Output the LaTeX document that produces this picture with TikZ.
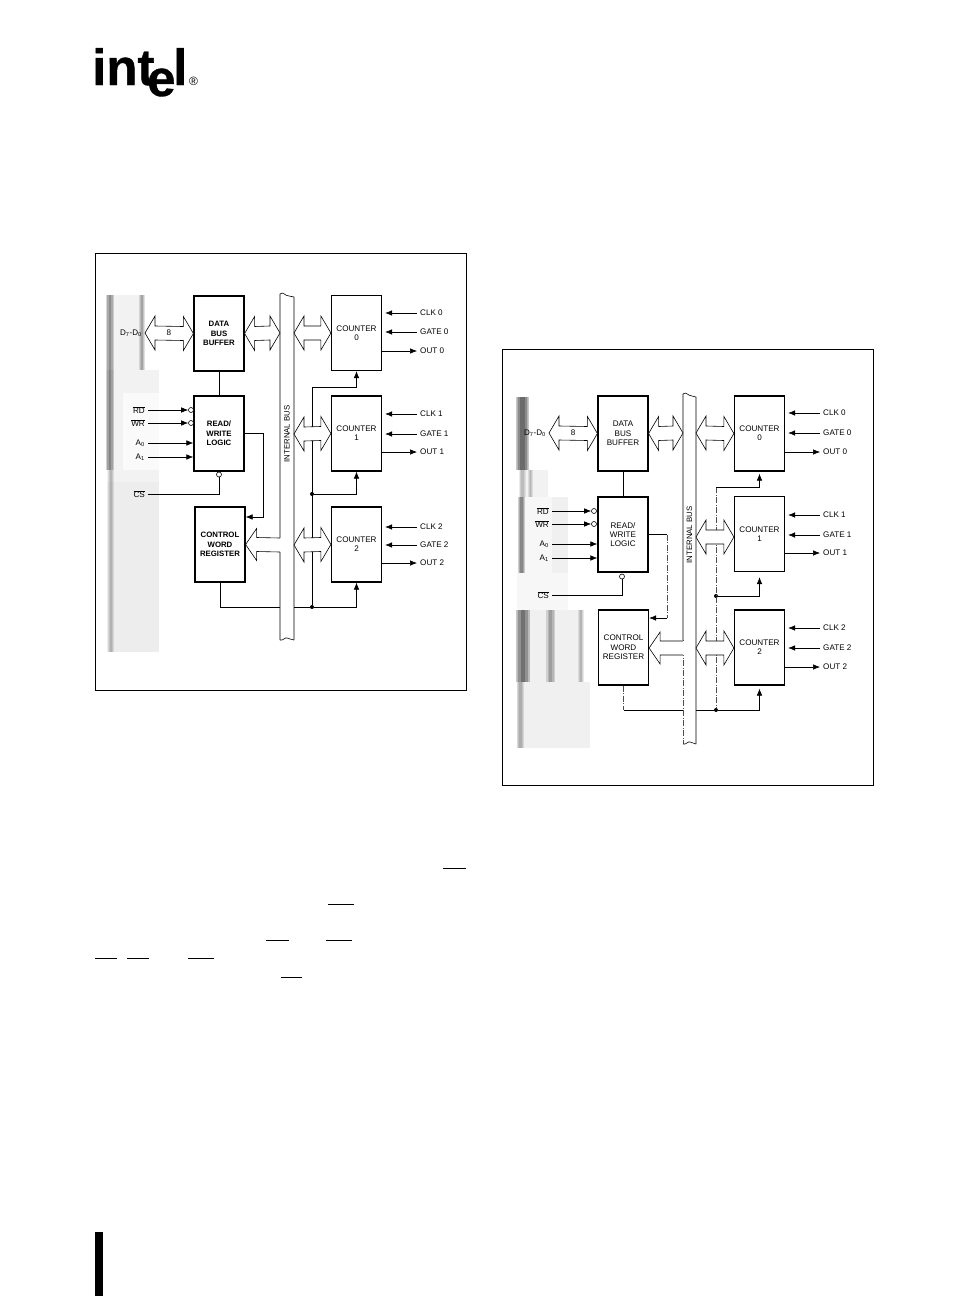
\documentclass[tikz,border=0pt]{standalone}
\usepackage{fontspec}
\setmainfont{Liberation Sans}
\newfontfamily\logofont[FakeBold=0.7]{Liberation Sans Bold}
\usetikzlibrary{arrows.meta, calc}

\tikzset{
    blockbox/.style={draw, line width=1.2pt, fill=white, minimum width=50pt, minimum height=75pt, inner sep=0pt, align=center, font=\fontsize{8.1}{9.3}\selectfont},
    boldbox/.style={blockbox, font=\fontsize{7.8}{9.3}\bfseries\selectfont},
    siglabel/.style={inner sep=3pt, font=\fontsize{8.1}{9}\selectfont},
    sigline/.style={line width=0.6pt},
    sigarrow/.style={sigline, -{Latex[length=7pt,width=5.5pt]}},
    scanline/.style={line width=0.5pt, black!70, dash pattern=on 6pt off 1.5pt on 1pt off 1.5pt},
    busline/.style={line width=0.6pt},
    bubble/.style={draw, circle, line width=0.6pt, fill=white, minimum size=5pt, inner sep=0pt},
    jdot/.style={fill, circle, minimum size=4pt, inner sep=0pt},
    frameline/.style={line width=0.9pt},
    logotext/.style={inner sep=0pt, anchor=base west, font=\fontsize{51}{51}\logofont},
}

% two-headed bus arrow between two tips
\newcommand{\busarrow}[2]{
    \draw[busline, fill=white] (#1) -- ($(#1)+(10,17)$) -- ($(#1)+(10,7)$) -- ($(#2)+(-10,7)$) -- ($(#2)+(-10,17)$) -- (#2)
        -- ($(#2)+(-10,-17)$) -- ($(#2)+(-10,-7)$) -- ($(#1)+(10,-7)$) -- ($(#1)+(10,-17)$) -- cycle;
}
% one-headed arrow that opens into the bus
\newcommand{\busstub}[2]{
    \fill[white] (#1) -- ($(#1)+(11,-16)$) -- ($(#1)+(11,-7)$) -- ($(#2)+(1,-7)$) -- ($(#2)+(1,7)$) -- ($(#1)+(11,7)$) -- ($(#1)+(11,16)$) -- cycle;
    \draw[busline] ($(#2)+(0,-7)$) -- ($(#1)+(11,-7)$) -- ($(#1)+(11,-16)$) -- (#1) -- ($(#1)+(11,16)$) -- ($(#1)+(11,7)$) -- ($(#2)+(0,7)$);
}

\begin{document}
\begin{tikzpicture}[x=1pt, y=-1pt]
    \useasboundingbox (0,0) rectangle (954,1296);

    % logo
    \node[logotext] (logoint) at (92,85) {int};
    \node[logotext] (logoe) at (147,96) {e};
    \node[logotext] (logol) at (173,85) {l};
    \node[inner sep=0pt, font=\fontsize{12}{12}\selectfont] (logor) at (193.5,81) {®};

    % page bar and the overbars left of the text
    \fill (95,1232) rectangle (103,1296);
    \foreach \xa/\xb/\ya in {443/466/868, 328/354/904, 266/289/940, 326/352/940, 95/117/958, 127/149/958, 188/214/958, 281/302/977}
        \draw[line width=0.8pt] (\xa,\ya) -- (\xb,\ya);

    % frames
    \draw[frameline] (95,253) rectangle (466,690);
    \draw[frameline] (502,349) rectangle (873,785);

    % scan smears: base patches (xa/ya/xb/yb/percent black)
    \foreach \xa/\ya/\xb/\yb/\g in {107/295/143/370/5, 107/370/159/482/5, 107/482/159/652/7, 123/393/159/470/2,
            517/397/528/470/10, 520/470/548/497/5, 520/497/568/573/3, 552/497/568/573/6, 517/573/568/610/3,
            517/610/582/682/6, 517/682/590/748/6}
        \fill[black!\g] (\xa,\ya) rectangle (\xb,\yb);

    % scan smears: soft bands, three stacked layers (xa/ya/xb/yb/opacity of a layer)
    \foreach \xa/\ya/\xb/\yb/\op in {106/295/114/370/.16, 139/295/145/370/.12, 106/370/114/470/.18, 108/470/114/652/.09,
            516/397/529/470/.22, 519/470/526/497/.08, 528/470/533/497/.09, 518/497/525/573/.18,
            516/610/530/682/.22, 546/610/555/682/.13, 578/610/584/682/.09, 517/682/524/748/.10}
        \foreach \s in {0,1,2}
            \fill[black, opacity=\op] (\xa+\s*\xb/6-\s*\xa/6,\ya) rectangle (\xb-\s*\xb/6+\s*\xa/6,\yb);

    % left panel: internal bus
    \draw[busline] (280,640) -- (280,294) .. controls (283,291) and (285,296) .. (289,296) -- (294,297) -- (294,640);
    \draw[busline] (280,640) .. controls (283,641) and (285,637) .. (287,638) .. controls (289,638) and (291,640) .. (294,640);
    \node[rotate=90, inner sep=0pt, font=\fontsize{7.8}{9}\selectfont] (bus0) at (287,434) {INTERNAL BUS};

    % left panel: boxes
    \node[boldbox] (data0) at (219,333.5) {DATA\\BUS\\BUFFER};
    \node[boldbox] (rw0) at (219,433.5) {READ/\\WRITE\\LOGIC};
    \node[boldbox] (cw0) at (220,544.5) {CONTROL\\WORD\\REGISTER};
    \foreach \n/\ya in {0/333, 1/433.5, 2/544.5}
        \node[blockbox] (cnt0\n) at (356.5,\ya) {COUNTER\\\n};

    % left panel: counter pins
    \foreach \n/\yc/\yg/\yo in {0/313/332/351, 1/414/434/452, 2/527/545/563} {
        \node[siglabel, anchor=west] (clka\n) at (417,\yc) {CLK \n};
        \node[siglabel, anchor=west] (gatea\n) at (417,\yg) {GATE \n};
        \node[siglabel, anchor=west] (outa\n) at (417,\yo) {OUT \n};
        \draw[sigarrow, shorten >=3pt] (clka\n.west) -- (cnt0\n.east |- clka\n.west);
        \draw[sigarrow, shorten >=3pt] (gatea\n.west) -- (cnt0\n.east |- gatea\n.west);
        \draw[sigarrow] (cnt0\n.east |- outa\n.west) -- (outa\n.west);
    }

    % left panel: control inputs
    \node[siglabel, anchor=east] (d70) at (145,333) {D\textsubscript{7}-D\textsubscript{0}};
    \node[siglabel, anchor=east] (rd0) at (148,410) {$\overline{\mbox{RD}}$};
    \node[siglabel, anchor=east] (wr0) at (148,423) {$\overline{\mbox{WR}}$};
    \node[siglabel, anchor=east] (a00) at (148,443) {A\textsubscript{0}};
    \node[siglabel, anchor=east] (a10) at (148,457) {A\textsubscript{1}};
    \node[siglabel, anchor=east] (cs0) at (148,494) {$\overline{\mbox{CS}}$};
    \node[bubble] (rdb0) at (191,410) {};
    \node[bubble] (wrb0) at (191,423) {};
    \node[bubble] (csb0) at (219,474.5) {};
    \draw[sigarrow] (rd0.east) -- (rdb0.west);
    \draw[sigarrow] (wr0.east) -- (wrb0.west);
    \draw[sigarrow] (a00.east) -- (rw0.west |- a00.east);
    \draw[sigarrow] (a10.east) -- (rw0.west |- a10.east);
    \draw[sigline] (cs0.east) -| (csb0.south);
    \draw[sigline] (data0) -- (rw0);
    \draw[sigarrow] (rw0.east) -- (263,433.5) |- (cw0.east |- 0,517);

    % left panel: gate lines
    \coordinate (top0) at (312,387);
    \node[jdot] (j10) at (312,494) {};
    \node[jdot] (j20) at (312,607) {};
    \coordinate (busl0) at (280,607);
    \coordinate (busr0) at (294,607);
    \draw[sigline] (top0) -- (j20);
    \draw[sigarrow] (top0) -| (cnt00.south);
    \draw[sigarrow] (j10) -| (cnt01.south);
    \draw[sigarrow] (j20) -| (cnt02.south);
    \draw[sigline] (cw0.south) |- (busl0);
    \draw[sigline] (busr0) -- (j20);

    % left panel: bus arrows
    \coordinate (dtip0) at (145,333);
    \coordinate (bus00) at (280,333);
    \coordinate (bus01) at (294,333);
    \coordinate (bus02) at (294,434);
    \coordinate (bus03) at (294,545);
    \coordinate (bus04) at (280,545);
    \busarrow{dtip0}{data0.west}
    \busarrow{data0.east}{bus00}
    \busarrow{bus01}{cnt00.west}
    \busarrow{bus02}{cnt01.west}
    \busarrow{bus03}{cnt02.west}
    \busstub{cw0.east}{bus04}
    \node[inner sep=0pt, font=\fontsize{8.1}{9}\selectfont] (eight0) at (169,333) {8};

    % right panel: internal bus
    \draw[busline] (683,640) -- (683,394) .. controls (686,391) and (688,396) .. (692,396) -- (696,397) -- (696,744);
    \draw[scanline] (683,640) -- (683,744);
    \draw[busline] (683,744) .. controls (686,745) and (688,741) .. (690,742) .. controls (692,742) and (694,744) .. (696,744);
    \node[rotate=90, inner sep=0pt, font=\fontsize{7.8}{9}\selectfont] (bus1) at (689.5,535) {INTERNAL BUS};

    % right panel: boxes
    \node[blockbox] (data1) at (623,433.5) {DATA\\BUS\\BUFFER};
    \node[blockbox] (rw1) at (623,534.5) {READ/\\WRITE\\LOGIC};
    \node[blockbox] (cw1) at (623.5,647.5) {CONTROL\\WORD\\REGISTER};
    \foreach \n/\ya in {0/433.5, 1/534, 2/647.5}
        \node[blockbox] (cnt1\n) at (759.5,\ya) {COUNTER\\\n};

    % right panel: counter pins
    \foreach \n/\yc/\yg/\yo in {0/413/433/452, 1/515/535/553, 2/628/648/667} {
        \node[siglabel, anchor=west] (clkb\n) at (820,\yc) {CLK \n};
        \node[siglabel, anchor=west] (gateb\n) at (820,\yg) {GATE \n};
        \node[siglabel, anchor=west] (outb\n) at (820,\yo) {OUT \n};
        \draw[sigarrow, shorten >=3pt] (clkb\n.west) -- (cnt1\n.east |- clkb\n.west);
        \draw[sigarrow, shorten >=3pt] (gateb\n.west) -- (cnt1\n.east |- gateb\n.west);
        \draw[sigarrow] (cnt1\n.east |- outb\n.west) -- (outb\n.west);
    }

    % right panel: control inputs
    \node[siglabel, anchor=east] (d71) at (549,433) {D\textsubscript{7}-D\textsubscript{0}};
    \node[siglabel, anchor=east] (rd1) at (552,511) {$\overline{\mbox{RD}}$};
    \node[siglabel, anchor=east] (wr1) at (552,524) {$\overline{\mbox{WR}}$};
    \node[siglabel, anchor=east] (a01) at (552,544) {A\textsubscript{0}};
    \node[siglabel, anchor=east] (a11) at (552,558) {A\textsubscript{1}};
    \node[siglabel, anchor=east] (cs1) at (552,595) {$\overline{\mbox{CS}}$};
    \node[bubble] (rdb1) at (594,511) {};
    \node[bubble] (wrb1) at (594,524) {};
    \node[bubble] (csb1) at (622,576.5) {};
    \draw[sigarrow] (rd1.east) -- (rdb1.west);
    \draw[sigarrow] (wr1.east) -- (wrb1.west);
    \draw[sigarrow] (a01.east) -- (rw1.west |- a01.east);
    \draw[sigarrow] (a11.east) -- (rw1.west |- a11.east);
    \draw[sigline] (cs1.east) -| (csb1.south);
    \draw[sigline] (data1) -- (rw1);
    \draw[sigline] (rw1.east) -- (667,534.5);
    \draw[scanline] (667,534.5) -- (667,618);
    \draw[sigarrow] (667,618) -- (cw1.east |- 0,618);

    % right panel: gate lines
    \coordinate (top1) at (716,487);
    \node[jdot] (j11) at (716,596) {};
    \node[jdot] (j21) at (716,710) {};
    \coordinate (busl1) at (683,710);
    \coordinate (busr1) at (696,710);
    \draw[scanline] (top1) -- (j21);
    \draw[sigarrow, shorten >=2pt] (top1) -| (cnt10.south);
    \draw[sigarrow, shorten >=5pt] (j11) -| (cnt11.south);
    \draw[sigarrow, shorten >=3pt] (j21) -| (cnt12.south);
    \draw[scanline] (cw1.south) -- (cw1.south |- busl1);
    \draw[sigline] (cw1.south |- busl1) -- (busl1);
    \draw[sigline] (busr1) -- (j21);

    % right panel: bus arrows
    \coordinate (dtip1) at (549,433);
    \coordinate (bus10) at (683,433);
    \coordinate (bus11) at (696,433);
    \coordinate (bus12) at (696,537);
    \coordinate (bus13) at (696,648);
    \coordinate (bus14) at (683,648);
    \busarrow{dtip1}{data1.west}
    \busarrow{data1.east}{bus10}
    \busarrow{bus11}{cnt10.west}
    \busarrow{bus12}{cnt11.west |- bus12}
    \busarrow{bus13}{cnt12.west |- bus13}
    \busstub{cw1.east |- bus14}{bus14}
    \node[inner sep=0pt, font=\fontsize{8.1}{9}\selectfont] (eight1) at (573,433) {8};
\end{tikzpicture}
\end{document}
